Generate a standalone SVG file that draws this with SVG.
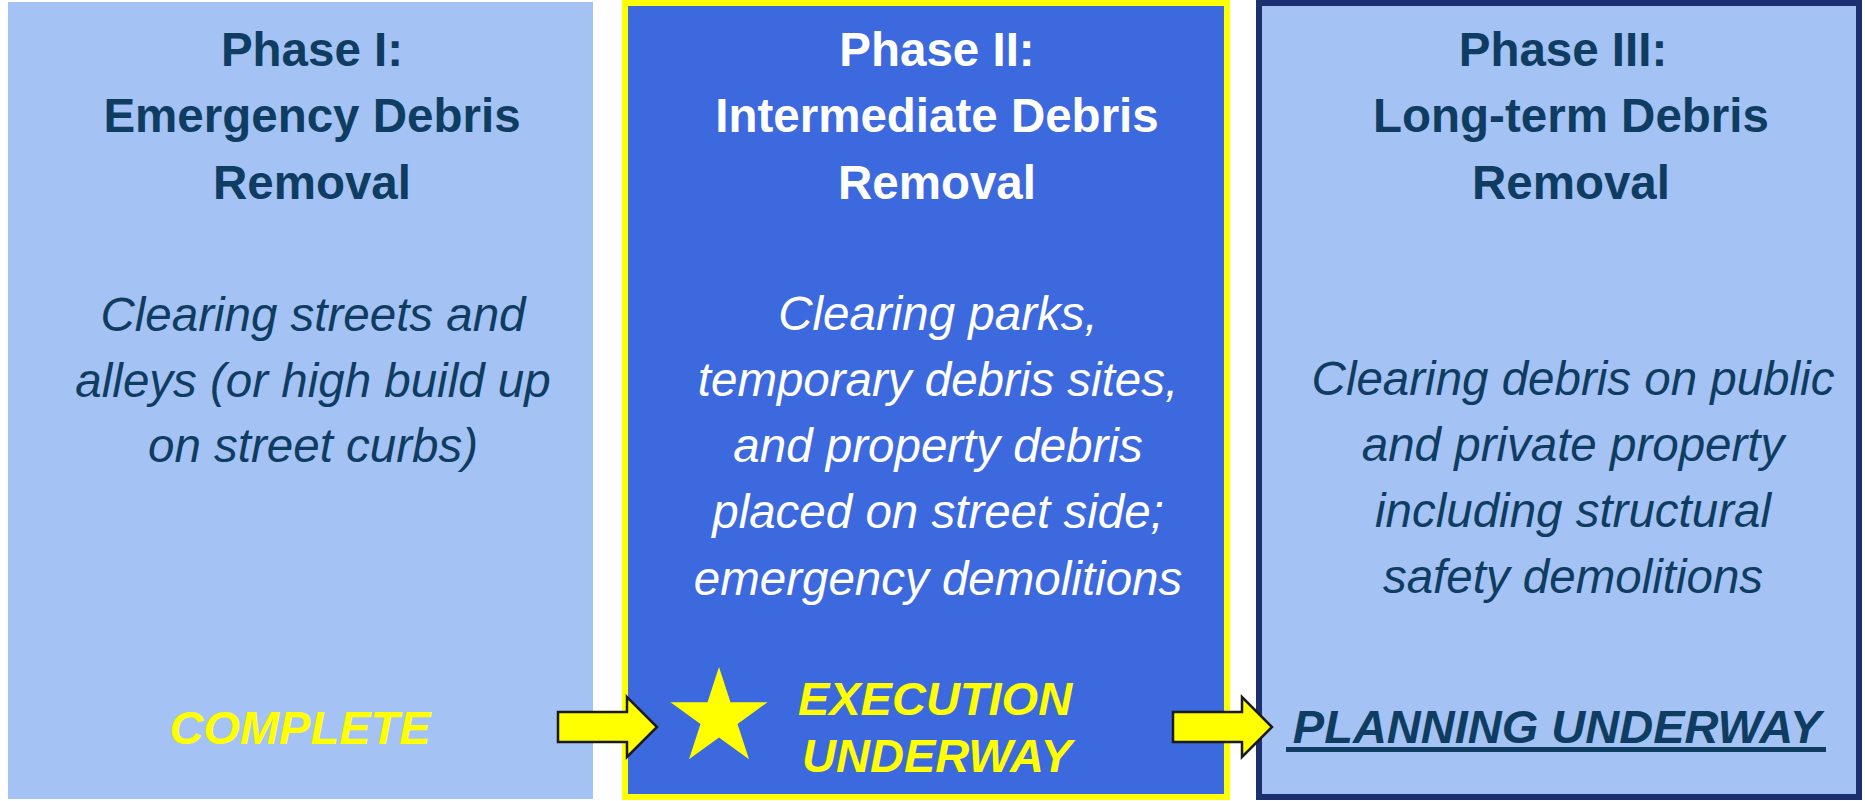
<svg xmlns="http://www.w3.org/2000/svg" width="1865" height="801" viewBox="0 0 1865 801">
<style>
  .title{font-family:"Liberation Sans",Arial,sans-serif;font-weight:bold;font-size:47.5px;text-anchor:middle}
  .body{font-family:"Liberation Sans",Arial,sans-serif;font-style:italic;font-size:47.5px;text-anchor:middle}
  .status{font-family:"Liberation Sans",Arial,sans-serif;font-style:italic;font-weight:bold;font-size:47px;text-anchor:middle}
  .dark{fill:#0F3D62}
  .white{fill:#FFFFFF}
  .yellow{fill:#FFFF00}
  .arrow{fill:#FFFF00;stroke:#1A1A1A;stroke-width:2.5;stroke-linejoin:miter}
</style>
<rect x="0" y="0" width="1865" height="801" fill="#FFFFFF"/>
<g id="phase1">
  <rect x="8" y="2" width="585" height="797" fill="#A4C2F4"/>
  <text class="title dark" x="312" y="66">Phase I:</text>
  <text class="title dark" x="312" y="132">Emergency Debris</text>
  <text class="title dark" x="312" y="199">Removal</text>
  <text class="body dark" x="313" y="331">Clearing streets and</text>
  <text class="body dark" x="313" y="397">alleys (or high build up</text>
  <text class="body dark" x="313" y="462">on street curbs)</text>
  <text class="status yellow" x="300" y="744">COMPLETE</text>
</g>
<g id="phase2">
  <rect x="625" y="3" width="602" height="794" fill="#3D69DF" stroke="#FFFF00" stroke-width="6"/>
  <text class="title white" x="937" y="66">Phase II:</text>
  <text class="title white" x="937" y="132">Intermediate Debris</text>
  <text class="title white" x="937" y="199">Removal</text>
  <text class="body white" x="938" y="330">Clearing parks,</text>
  <text class="body white" x="938" y="396">temporary debris sites,</text>
  <text class="body white" x="938" y="462">and property debris</text>
  <text class="body white" x="938" y="528">placed on street side;</text>
  <text class="body white" x="938" y="595">emergency demolitions</text>
  <polygon class="yellow" points="719,667 730.5,702.3 767.5,702.3 737.5,724 749,759.3 719,737.5 689,759.3 700.5,724 670.5,702.3 707.5,702.3"/>
  <text class="status yellow" x="935" y="715">EXECUTION</text>
  <text class="status yellow" x="937" y="772">UNDERWAY</text>
</g>
<g id="phase3">
  <rect x="1259" y="3" width="600" height="794" fill="#A4C2F4" stroke="#1C2F6E" stroke-width="6"/>
  <text class="title dark" x="1563" y="66">Phase III:</text>
  <text class="title dark" x="1571" y="132">Long-term Debris</text>
  <text class="title dark" x="1571" y="199">Removal</text>
  <text class="body dark" x="1573" y="395">Clearing debris on public</text>
  <text class="body dark" x="1573" y="461">and private property</text>
  <text class="body dark" x="1573" y="527">including structural</text>
  <text class="body dark" x="1573" y="593">safety demolitions</text>
  <text class="status dark" x="1557" y="743">PLANNING UNDERWAY</text>
  <rect class="dark" x="1286" y="747" width="540" height="5"/>
</g>
<g id="connectors">
  <polygon class="arrow" points="558,712 627,712 627,697 657,727 627,757 627,742 558,742"/>
  <polygon class="arrow" points="1173,712 1242,712 1242,697 1272,727 1242,757 1242,742 1173,742"/>
</g>
</svg>
